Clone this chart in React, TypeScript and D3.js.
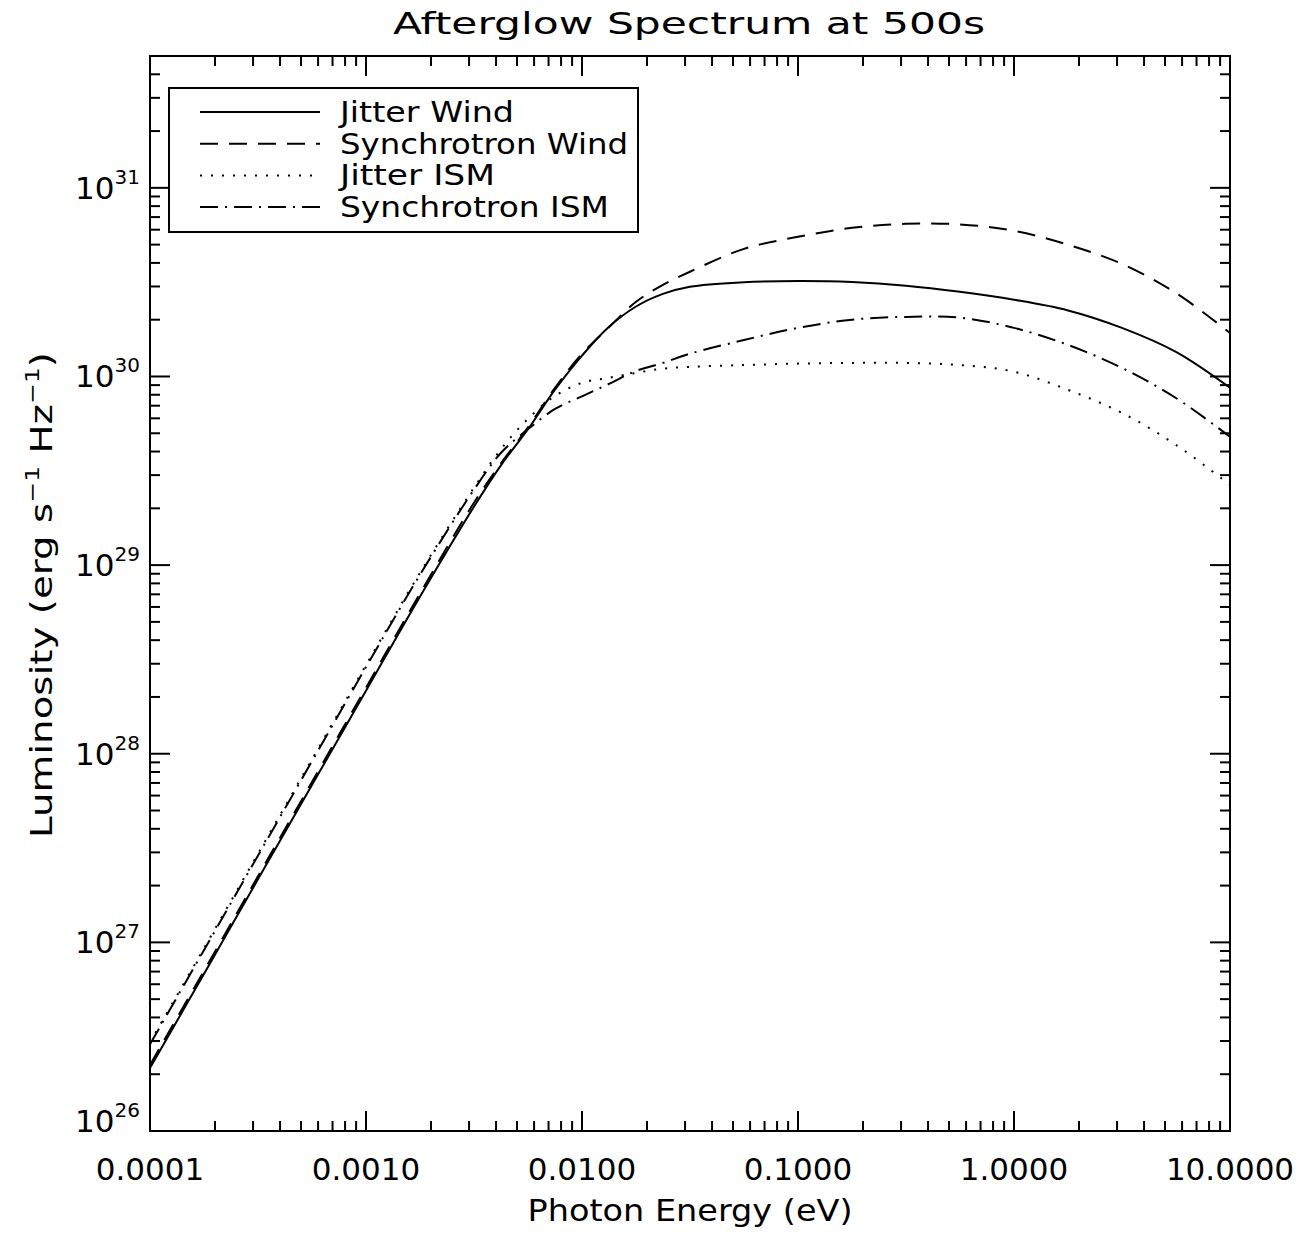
import React from "react";
import * as d3 from "d3";

// ---------- data ----------
const energyEv = [
  1e-4, 1.78e-4, 3.16e-4, 5.62e-4, 1e-3, 1.78e-3, 3.16e-3, 4.22e-3, 5.62e-3, 7.5e-3,
  0.01, 0.0133, 0.0178, 0.0237, 0.0316, 0.0562, 0.1, 0.178, 0.316, 0.562,
  1, 1.78, 3.16, 5.62, 10,
];

const jitterWind = [
  2.16e26, 6.82e26, 2.16e27, 6.82e27, 2.16e28, 6.82e28, 2.04e29, 3.39e29, 5.25e29, 8.51e29,
  1.29e30, 1.83e30, 2.35e30, 2.74e30, 2.99e30, 3.16e30, 3.21e30, 3.17e30, 3.03e30, 2.81e30,
  2.55e30, 2.24e30, 1.81e30, 1.35e30, 8.71e29,
];

const synchrotronWind = [
  2.24e26, 7.08e26, 2.24e27, 7.08e27, 2.24e28, 7.08e28, 2.14e29, 3.47e29, 5.37e29, 8.71e29,
  1.32e30, 1.82e30, 2.49e30, 3.06e30, 3.59e30, 4.75e30, 5.5e30, 6.14e30, 6.45e30, 6.4e30,
  5.92e30, 4.99e30, 3.95e30, 2.77e30, 1.7e30,
];

const jitterISM = [
  2.95e26, 9.33e26, 2.95e27, 9.33e27, 2.95e28, 9.12e28, 2.57e29, 4.12e29, 5.96e29, 7.89e29,
  9.25e29, 9.84e29, 1.045e30, 1.1e30, 1.125e30, 1.15e30, 1.17e30, 1.18e30, 1.18e30, 1.15e30,
  1.06e30, 8.49e29, 6.41e29, 4.34e29, 2.66e29,
];

const synchrotronISM = [
  2.88e26, 9.12e26, 2.88e27, 9.12e27, 2.88e28, 8.91e28, 2.51e29, 3.94e29, 5.25e29, 6.73e29,
  7.85e29, 9.12e29, 1.07e30, 1.18e30, 1.32e30, 1.56e30, 1.81e30, 2.0e30, 2.07e30, 2.05e30,
  1.81e30, 1.47e30, 1.11e30, 7.69e29, 4.79e29,
];

const seriesNames = ["Jitter Wind", "Synchrotron Wind", "Jitter ISM", "Synchrotron ISM"];
const seriesValues = [jitterWind, synchrotronWind, jitterISM, synchrotronISM];
const seriesDash = ["none", "18 11", "2 9", "18 7 2 7"];
const legendTextLengths = [174, 288, 155, 269];

const xMajorTicks = [1e-4, 1e-3, 1e-2, 1e-1, 1, 10];
const yMajorExponents = [26, 27, 28, 29, 30, 31];

const titleText = "Afterglow Spectrum at 500s";
const xTitleText = "Photon Energy (eV)";

// ---------- layout ----------
const W = 1316;
const H = 1234;
const L = 150, R = 1230, T = 56, B = 1131;
const FONT = "'DejaVu Sans', sans-serif";

export default function App() {
  const x = d3.scaleLog().domain([1e-4, 10]).range([L, R]);
  const y = d3.scaleLog().domain([1e26, 5e31]).range([B, T]);

  const xMinor: number[] = [];
  for (let e = -4; e < 1; e++) for (let k = 2; k <= 9; k++) xMinor.push(k * Math.pow(10, e));
  const yMinor: number[] = [];
  for (let e = 26; e <= 31; e++)
    for (let k = 2; k <= 9; k++) {
      const v = k * Math.pow(10, e);
      if (v < 5e31) yMinor.push(v);
    }

  const line = d3
    .line<number>()
    .x((_, i) => x(energyEv[i]))
    .y((d) => y(d))
    .curve(d3.curveCatmullRom.alpha(0.5));

  const fmt = d3.format(".4f");
  const sw = 2;

  return (
    <svg width={W} height={H} style={{ position: "absolute", left: 0, top: 0, background: "#fff" }}>
      <defs>
        <clipPath id="plotclip">
          <rect x={L} y={T} width={R - L} height={B - T} />
        </clipPath>
      </defs>
      <rect x={0} y={0} width={W} height={H} fill="#fff" />

      {/* title */}
      <text x={689} y={34} fontFamily={FONT} fontSize={31} textAnchor="middle" textLength={592} lengthAdjust="spacingAndGlyphs">
        {titleText}
      </text>

      {/* data lines */}
      <g clipPath="url(#plotclip)">
        {seriesValues.map((vals, i) => (
          <path
            key={i}
            d={line(vals) || ""}
            fill="none"
            stroke="#000"
            strokeWidth={2}
            strokeDasharray={seriesDash[i] === "none" ? undefined : seriesDash[i]}
          />
        ))}
      </g>

      {/* frame */}
      <rect x={L} y={T} width={R - L} height={B - T} fill="none" stroke="#000" strokeWidth={sw} />

      {/* x ticks */}
      {xMajorTicks.map((t, i) => (
        <g key={"xm" + i}>
          <line x1={x(t)} x2={x(t)} y1={B} y2={B - 20} stroke="#000" strokeWidth={sw} />
          <line x1={x(t)} x2={x(t)} y1={T} y2={T + 20} stroke="#000" strokeWidth={sw} />
          <text x={x(t)} y={1180} fontFamily={FONT} fontSize={31} textAnchor="middle">
            {fmt(t)}
          </text>
        </g>
      ))}
      {xMinor.map((t, i) => (
        <g key={"xn" + i}>
          <line x1={x(t)} x2={x(t)} y1={B} y2={B - 10} stroke="#000" strokeWidth={sw} />
          <line x1={x(t)} x2={x(t)} y1={T} y2={T + 10} stroke="#000" strokeWidth={sw} />
        </g>
      ))}

      {/* y ticks */}
      {yMajorExponents.map((e, i) => {
        const v = Math.pow(10, e);
        const yy = y(v);
        const base = e === 26 ? yy + 1 : yy + 11;
        return (
          <g key={"ym" + i}>
            <line x1={L} x2={L + 20} y1={yy} y2={yy} stroke="#000" strokeWidth={sw} />
            <line x1={R} x2={R - 20} y1={yy} y2={yy} stroke="#000" strokeWidth={sw} />
            <text x={75} y={base} fontFamily={FONT} fontSize={31}>
              10
              <tspan dy={-15} fontSize={20}>
                {String(e)}
              </tspan>
            </text>
          </g>
        );
      })}
      {yMinor.map((v, i) => (
        <g key={"yn" + i}>
          <line x1={L} x2={L + 10} y1={y(v)} y2={y(v)} stroke="#000" strokeWidth={sw} />
          <line x1={R} x2={R - 10} y1={y(v)} y2={y(v)} stroke="#000" strokeWidth={sw} />
        </g>
      ))}

      {/* axis titles */}
      <text x={690} y={1221} fontFamily={FONT} fontSize={31} textAnchor="middle" textLength={325} lengthAdjust="spacingAndGlyphs">
        {xTitleText}
      </text>
      <text
        transform="translate(52,595) rotate(-90)"
        x={0}
        y={0}
        fontFamily={FONT}
        fontSize={31}
        textAnchor="middle"
        textLength={486}
        lengthAdjust="spacingAndGlyphs"
      >
        Luminosity (erg s
        <tspan dy={-13} fontSize={20}>
          −1
        </tspan>
        <tspan dy={13}> Hz</tspan>
        <tspan dy={-13} fontSize={20}>
          −1
        </tspan>
        <tspan dy={13}>)</tspan>
      </text>

      {/* legend */}
      <rect x={169} y={88} width={469} height={144} fill="#fff" stroke="#000" strokeWidth={sw} />
      {seriesNames.map((name, i) => {
        const ly = 112 + i * 31.7;
        return (
          <g key={"lg" + i}>
            <line
              x1={200}
              x2={320}
              y1={ly}
              y2={ly}
              stroke="#000"
              strokeWidth={2}
              strokeDasharray={seriesDash[i] === "none" ? undefined : seriesDash[i]}
            />
            <text x={340} y={ly + 10} fontFamily={FONT} fontSize={28} textLength={legendTextLengths[i]} lengthAdjust="spacingAndGlyphs">
              {name}
            </text>
          </g>
        );
      })}
    </svg>
  );
}
